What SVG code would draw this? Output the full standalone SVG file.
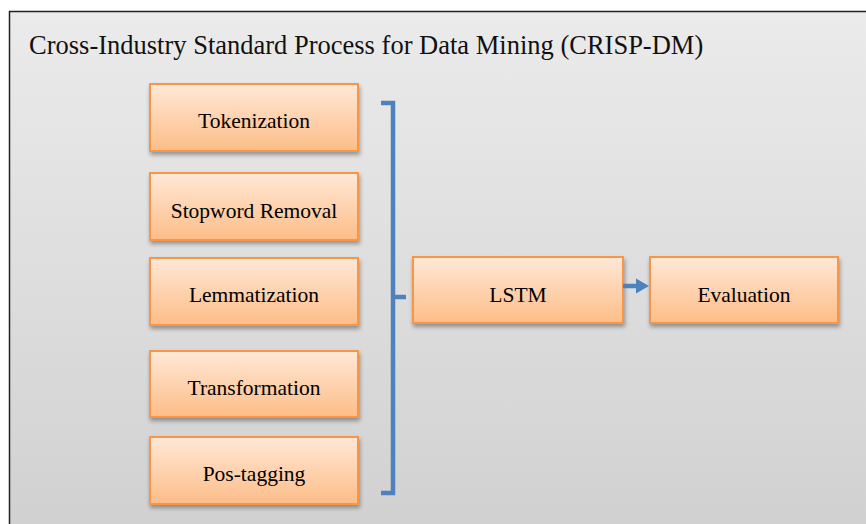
<svg xmlns="http://www.w3.org/2000/svg" width="866" height="524" viewBox="0 0 866 524">
  <defs>
    <linearGradient id="bg" x1="0" y1="0" x2="0" y2="1">
      <stop offset="0" stop-color="#ebebeb"/>
      <stop offset="1" stop-color="#d0d0d0"/>
    </linearGradient>
    <linearGradient id="boxFill" x1="0" y1="0" x2="0" y2="1">
      <stop offset="0" stop-color="#ffe8d7"/>
      <stop offset="1" stop-color="#fdbd88"/>
    </linearGradient>
    <filter id="shadow" x="-10%" y="-20%" width="120%" height="150%">
      <feGaussianBlur in="SourceAlpha" stdDeviation="2"/>
      <feOffset dx="1" dy="3" result="b"/>
      <feComponentTransfer><feFuncA type="linear" slope="0.35"/></feComponentTransfer>
      <feMerge><feMergeNode/><feMergeNode in="SourceGraphic"/></feMerge>
    </filter>
  </defs>
  <style>
    .box { fill: url(#boxFill); stroke: #f79646; stroke-width: 2; filter: url(#shadow); }
    .conn { fill: none; stroke: #4f81bd; stroke-width: 4.5; }
  </style>

  <!-- outer frame -->
  <rect x="9.5" y="11.5" width="870" height="530" fill="url(#bg)" stroke="#222" stroke-width="1.5"/>
  <text x="29" y="54" font-family="'Liberation Serif', 'Times New Roman', serif" font-size="26.5" fill="#111">Cross-Industry Standard Process for Data Mining (CRISP-DM)</text>

  <g font-family="'Liberation Serif', 'Times New Roman', serif" font-size="21.5" fill="#000" text-anchor="middle">
    <!-- preprocessing steps -->
    <g id="tokenization">
      <rect class="box" x="150" y="84" width="208" height="67"/>
      <text x="254" y="128">Tokenization</text>
    </g>
    <g id="stopword-removal">
      <rect class="box" x="150" y="173" width="208" height="67"/>
      <text x="254" y="218">Stopword Removal</text>
    </g>
    <g id="lemmatization">
      <rect class="box" x="150" y="258" width="208" height="67"/>
      <text x="254" y="302">Lemmatization</text>
    </g>
    <g id="transformation">
      <rect class="box" x="150" y="351" width="208" height="66"/>
      <text x="254" y="395">Transformation</text>
    </g>
    <g id="pos-tagging">
      <rect class="box" x="150" y="437" width="208" height="67"/>
      <text x="254" y="481">Pos-tagging</text>
    </g>

    <!-- model and evaluation -->
    <g id="lstm">
      <rect class="box" x="413" y="257" width="210" height="66"/>
      <text x="518" y="302">LSTM</text>
    </g>
    <g id="evaluation">
      <rect class="box" x="650" y="257" width="188" height="66"/>
      <text x="744" y="302">Evaluation</text>
    </g>
  </g>

  <!-- connectors -->
  <g id="connectors">
    <path class="conn" d="M381,103 H393 V493 H381"/>
    <path class="conn" d="M393,297 H406"/>
    <path class="conn" stroke-width="6" d="M623,286 H637"/>
    <polygon points="636,278.5 649,286 636,293.5" fill="#4f81bd"/>
  </g>
</svg>
